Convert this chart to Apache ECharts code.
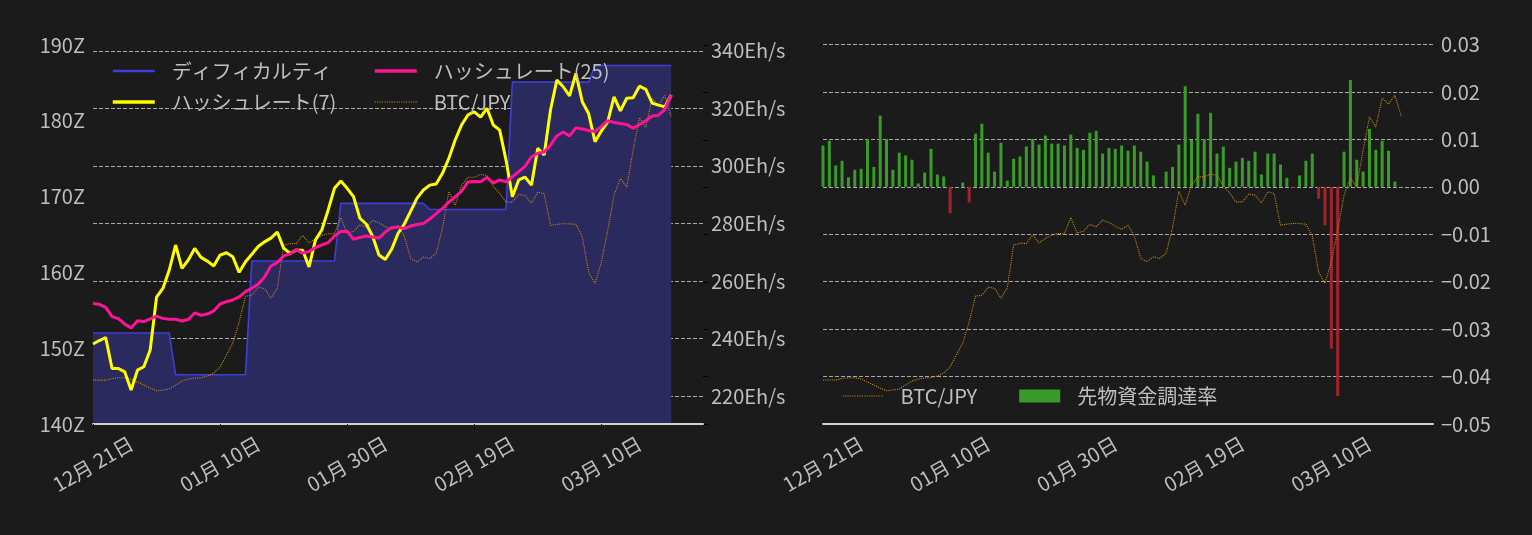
<!DOCTYPE html>
<html>
<head>
<meta charset="utf-8">
<script src="https://cdn.jsdelivr.net/npm/echarts@6/dist/echarts.min.js"></script>
<style>
html,body{margin:0;padding:0;background:#1b1b1b;}
#chart{width:1532px;height:535px;}
</style>
</head>
<body>
<div id="chart"></div>
<script>
// Day 0 = 2023-12-21, one value per day
const startDate = '2023-12-21';
const xTickDays = [0, 20, 40, 60, 80];

const difficulty = [
152.0,152.0,152.0,152.0,152.0,152.0,152.0,152.0,152.0,152.0,152.0,152.0,152.0,
146.5,146.5,146.5,146.5,146.5,146.5,146.5,146.5,146.5,146.5,146.5,146.5,
161.5,161.5,161.5,161.5,161.5,161.5,161.5,161.5,161.5,161.5,161.5,161.5,161.5,161.5,
169.1,169.1,169.1,169.1,169.1,169.1,169.1,169.1,169.1,169.1,169.1,169.1,169.1,169.1,
168.3,168.3,168.3,168.3,168.3,168.3,168.3,168.3,168.3,168.3,168.3,168.3,168.3,
185.1,185.1,185.1,185.1,185.1,185.1,185.1,185.1,185.1,185.1,185.1,185.1,185.1,
187.3,187.3,187.3,187.3,187.3,187.3,187.3,187.3,187.3,187.3,187.3,187.3,187.3
];

const hashrate7 = [
238.1,239.3,240.3,229.6,229.6,228.4,222.1,229.0,230.2,236.0,
254.4,257.4,263.8,272.5,264.4,267.3,271.3,268.2,266.9,265.2,
269.0,269.8,268.4,263.0,266.7,269.3,272.0,273.6,274.9,277.0,
271.4,269.6,270.7,270.7,264.9,274.2,277.7,284.6,292.2,294.7,
292.2,289.3,281.8,279.8,275.6,269.0,267.5,271.0,276.5,279.8,
284.3,288.8,291.6,293.3,293.7,297.4,302.6,309.0,314.2,317.7,
318.8,316.9,320.0,314.2,312.4,302.0,289.3,295.1,296.1,293.3,
306.1,303.8,319.4,329.8,327.5,324.3,332.1,322.3,318.2,308.4,
312.1,315.3,324.0,319.1,323.5,323.7,327.7,326.6,321.8,321.1,
320.5,324.6
];

const hashrate25 = [
252.2,251.9,250.8,247.6,246.9,245.0,243.7,246.2,245.9,246.8,
247.8,247.0,246.7,246.7,246.1,246.6,248.9,248.1,248.5,249.6,
252.0,252.8,253.4,254.5,256.3,257.5,258.9,261.4,265.2,266.4,
268.7,269.4,270.9,269.7,270.2,271.6,272.5,273.3,275.6,277.2,
277.3,274.5,275.1,275.6,275.3,274.9,277.0,278.6,278.7,278.2,
279.1,279.6,280.0,281.5,283.4,285.2,287.4,289.2,291.1,294.4,
294.6,294.5,296.0,294.0,295.1,294.5,296.2,298.0,299.8,303.1,
304.4,304.8,307.2,310.4,311.8,310.4,313.2,312.8,312.3,311.9,
313.7,315.7,315.1,314.7,314.4,313.1,314.4,315.7,317.3,317.6,
319.6,324.6
];

const btcJpy = [
6249000,6249000,6249000,6271000,6283000,6283000,6264000,6219000,6175000,6131000,
6091000,6101000,6116000,6175000,6234000,6264000,6278000,6283000,6308000,6352000,
6441000,6618000,6795000,7104000,7488000,7502000,7620000,7601000,7458000,7606000,
8240000,8265000,8265000,8387000,8274000,8339000,8387000,8412000,8412000,8648000,
8417000,8446000,8545000,8510000,8609000,8572000,8520000,8471000,8535000,8373000,
8048000,7994000,8067000,8044000,8122000,8491000,9036000,8830000,9125000,9247000,
9247000,9287000,9272000,9110000,9007000,8878000,8878000,8992000,8977000,8864000,
9026000,9002000,8535000,8550000,8560000,8557000,8550000,8373000,7842000,7675000,
7989000,8461000,8977000,9228000,9100000,9641000,10128000,9985000,10408000,10319000,
10452000,10142000
];

const fundingRate = [
0.0087,0.0097,0.0045,0.0055,0.0020,0.0036,0.0038,0.0101,0.0042,0.0150,
0.0101,0.0036,0.0072,0.0066,0.0057,0.0007,0.0030,0.0080,0.0026,0.0022,
-0.0056,null,0.0009,-0.0033,0.0112,0.0133,0.0072,0.0032,0.0093,0.0013,
0.0059,0.0064,0.0085,0.0101,0.0089,0.0108,0.0091,0.0091,0.0087,0.0110,
0.0082,0.0078,0.0114,0.0118,0.0070,0.0082,0.0080,0.0087,0.0076,0.0087,
0.0074,0.0053,0.0024,null,0.0032,0.0042,0.0089,0.0212,0.0099,0.0154,
0.0101,0.0156,0.0070,0.0085,0.0040,0.0053,0.0061,0.0055,0.0074,0.0026,
0.0070,0.0070,0.0047,0.0019,-0.0002,0.0024,0.0055,0.0070,-0.0025,-0.0081,
-0.0341,-0.0441,0.0074,0.0225,0.0057,0.0032,0.0122,0.0078,0.0097,0.0076,
0.0011,-0.0001
];

const FONT = '"Noto Sans CJK JP", "Noto Sans", sans-serif';
const TXT = '#bfbfbf';
const GRIDLINE = {type: [4, 2], color: '#a8a8a8', width: 1};
const GREEN = '#3a9b2a';
const RED = '#a5232b';
const BTC_COLOR = '#c08a10';
const HIDE_SYMBOL = {opacity: 0};

const startMs = Date.parse(startDate + 'T00:00:00Z');
function dayLabel(d) {
  const t = new Date(startMs + d * 86400000);
  const m = String(t.getUTCMonth() + 1).padStart(2, '0');
  const dd = String(t.getUTCDate()).padStart(2, '0');
  return m + '月 ' + dd + '日';
}
const pairs = arr => arr.map((v, i) => [i, v]);

function xAxis(gridIndex, ticks) {
  return {
    gridIndex, type: 'value', min: 0, max: 96, interval: 20, z: 10,
    axisLine: {show: true, onZero: false, lineStyle: {color: '#d0d0d0', width: 2}},
    axisTick: {show: ticks, length: 5, inside: false, lineStyle: {color: '#000', width: 1}, customValues: xTickDays},
    axisLabel: {
      customValues: xTickDays, rotate: 30, align: 'center', verticalAlign: 'middle', margin: 40,
      color: TXT, fontSize: 20, fontFamily: FONT, formatter: v => dayLabel(v)
    },
    splitLine: {show: false}
  };
}

const legendText = {color: TXT, fontSize: 20, fontFamily: FONT, padding: [0, 0, 0, 12]};

const option = {
  backgroundColor: '#1b1b1b',
  animation: false,
  textStyle: {fontFamily: FONT},
  grid: [
    {left: 93, top: 45, width: 610, height: 379},
    {left: 823, top: 44.5, width: 610, height: 379.5}
  ],
  legend: [
    {
      left: 111, top: 61, padding: 0, orient: 'vertical', itemGap: 11, itemWidth: 42, itemHeight: 14,
      itemStyle: HIDE_SYMBOL,
      data: [
        {name: 'ディフィカルティ', lineStyle: {width: 2.5}},
        {name: 'ハッシュレート(7)', lineStyle: {width: 3.5}}
      ],
      textStyle: legendText
    },
    {
      left: 373, top: 61, padding: 0, orient: 'vertical', itemGap: 11, itemWidth: 42, itemHeight: 14,
      itemStyle: HIDE_SYMBOL,
      data: [
        {name: 'ハッシュレート(25)', lineStyle: {width: 3.5}},
        {name: 'BTC/JPY', lineStyle: {width: 1.2}}
      ],
      textStyle: legendText
    },
    {
      left: 842, top: 386, padding: 0, orient: 'horizontal', itemGap: 42, itemWidth: 41, itemHeight: 13,
      data: [{name: 'BTC/JPY', itemStyle: HIDE_SYMBOL, lineStyle: {width: 1.2}}, {name: '先物資金調達率', icon: 'rect'}],
      textStyle: legendText
    }
  ],
  xAxis: [xAxis(0, true), xAxis(1, false)],
  yAxis: [
    { // 0: difficulty
      gridIndex: 0, type: 'value', position: 'left', min: 140, max: 190, interval: 10,
      axisLine: {show: false}, axisTick: {show: false}, splitLine: {show: false},
      axisLabel: {formatter: '{value}Z', margin: 8, color: TXT, fontSize: 20, fontFamily: FONT}
    },
    { // 1: hashrate
      gridIndex: 0, type: 'value', position: 'right', min: 210.3, max: 342, minInterval: 20, maxInterval: 20,
      axisLine: {show: false}, axisTick: {show: false},
      splitLine: {show: true, showMinLine: false, showMaxLine: false, lineStyle: GRIDLINE},
      axisLabel: {formatter: '{value}Eh/s', showMinLabel: false, showMaxLabel: false, margin: 8, color: TXT, fontSize: 20, fontFamily: FONT}
    },
    { // 2: BTC/JPY hidden (left chart)
      gridIndex: 0, type: 'value', position: 'right', min: 5600000, max: 11200000, interval: 700000,
      axisLine: {show: false}, axisLabel: {show: false}, splitLine: {show: false},
      axisTick: {show: true, length: 5, lineStyle: {color: '#000', width: 1}}
    },
    { // 3: funding rate
      gridIndex: 1, type: 'value', position: 'right', min: -0.05, max: 0.03, interval: 0.01,
      axisLine: {show: false}, axisTick: {show: false},
      splitLine: {show: true, showMinLine: false, lineStyle: GRIDLINE},
      axisLabel: {
        margin: 8, color: TXT, fontSize: 20, fontFamily: FONT,
        formatter: v => (v < -1e-9 ? '\u2212' : '') + Math.abs(v).toFixed(2)
      }
    },
    { // 4: BTC/JPY hidden (right chart)
      gridIndex: 1, type: 'value', position: 'left', min: 5600000, max: 11200000, interval: 700000,
      axisLine: {show: false}, axisLabel: {show: false}, splitLine: {show: false},
      axisTick: {show: true, length: 3, lineStyle: {color: '#000', width: 1}}
    }
  ],
  series: [
    {
      name: 'ディフィカルティ', type: 'line', xAxisIndex: 0, yAxisIndex: 0, z: 1,
      data: pairs(difficulty), symbol: 'none', showSymbol: false,
      itemStyle: {color: '#3f3fd8'},
      lineStyle: {color: '#3f3fd8', width: 1.6},
      areaStyle: {color: '#2a2a5e', opacity: 1, origin: 'start'}
    },
    {
      name: 'BTC/JPY', type: 'line', xAxisIndex: 0, yAxisIndex: 2, z: 2,
      data: pairs(btcJpy), symbol: 'none', showSymbol: false,
      itemStyle: {color: BTC_COLOR},
      lineStyle: {color: BTC_COLOR, width: 1.1, type: 'dotted'}
    },
    {
      name: 'ハッシュレート(7)', type: 'line', xAxisIndex: 0, yAxisIndex: 1, z: 3,
      data: pairs(hashrate7), symbol: 'none', showSymbol: false,
      itemStyle: {color: '#ffff00'},
      lineStyle: {color: '#ffff00', width: 3}
    },
    {
      name: 'ハッシュレート(25)', type: 'line', xAxisIndex: 0, yAxisIndex: 1, z: 4,
      data: pairs(hashrate25), symbol: 'none', showSymbol: false,
      itemStyle: {color: '#ff1493'},
      lineStyle: {color: '#ff1493', width: 3}
    },
    {
      name: '先物資金調達率', type: 'bar', xAxisIndex: 1, yAxisIndex: 3, z: 2,
      barWidth: 3,
      itemStyle: {color: GREEN},
      data: fundingRate.map((v, i) => v == null ? [i, null]
        : (v < 0 ? {value: [i, v], itemStyle: {color: RED}} : [i, v]))
    },
    {
      name: 'BTC/JPY', type: 'line', xAxisIndex: 1, yAxisIndex: 4, z: 3,
      data: pairs(btcJpy), symbol: 'none', showSymbol: false,
      itemStyle: {color: BTC_COLOR},
      lineStyle: {color: BTC_COLOR, width: 1.1, type: 'dotted'}
    }
  ]
};

const chart = echarts.init(document.getElementById('chart'), null, {renderer: 'canvas'});
chart.setOption(option);
</script>
</body>
</html>
